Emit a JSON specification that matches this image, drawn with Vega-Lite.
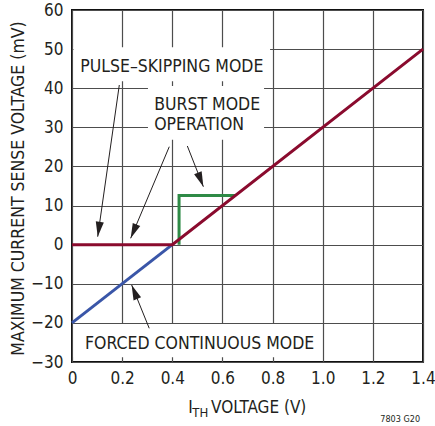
{
  "$schema": "https://vega.github.io/schema/vega-lite/v6.json",
  "autosize": "none",
  "width": 351,
  "height": 352,
  "padding": {"left": 72, "top": 10, "right": 12, "bottom": 64},
  "background": "white",
  "config": {
    "view": {"stroke": "#111", "strokeWidth": 2},
    "font": "'DejaVu Sans Condensed', 'Liberation Sans', sans-serif",
    "axis": {
      "labelFont": "'DejaVu Sans Condensed', 'Liberation Sans', sans-serif",
      "titleFont": "'DejaVu Sans Condensed', 'Liberation Sans', sans-serif",
      "labelColor": "#231f20",
      "titleColor": "#231f20",
      "gridColor": "#4d4d4d",
      "gridWidth": 1.2,
      "gridOpacity": 1,
      "domain": false,
      "ticks": false,
      "tickSize": 0,
      "labelOverlap": false,
      "labelBound": false
    }
  },
  "datasets": {
    "curves": [
      {"series": "forced", "i": 0, "v": 0, "mv": -20},
      {"series": "forced", "i": 1, "v": 0.4, "mv": 0},
      {"series": "burst", "i": 0, "v": 0.427, "mv": 0},
      {"series": "burst", "i": 1, "v": 0.427, "mv": 12.55},
      {"series": "burst", "i": 2, "v": 0.651, "mv": 12.55},
      {"series": "pulse", "i": 0, "v": 0, "mv": 0},
      {"series": "pulse", "i": 1, "v": 0.4, "mv": 0},
      {"series": "pulse", "i": 2, "v": 1.4, "mv": 50}
    ],
    "boxes": [
      {"x1": 0.006, "x2": 0.79, "y1": 50.5, "y2": 41.8},
      {"x1": 0.303, "x2": 0.766, "y1": 40.6, "y2": 26.8},
      {"x1": 0.006, "x2": 0.98, "y1": -20.3, "y2": -28.8}
    ],
    "arrows": [
      {"id": "a1", "x": 0.1887, "y": 40.82, "x2": 0.1025, "y2": 2.04},
      {"id": "a2", "x": 0.388, "y": 25.05, "x2": 0.234, "y2": 1.63},
      {"id": "a3", "x": 0.46, "y": 25.23, "x2": 0.524, "y2": 14.82},
      {"id": "a4", "x": 0.308, "y": -21.38, "x2": 0.238, "y2": -10.31}
    ],
    "labels": [
      {"text": "PULSE–SKIPPING MODE", "x": 0.398, "y": 45.5, "pos": "center"},
      {"text": "BURST MODE", "x": 0.328, "y": 35.7, "pos": "left"},
      {"text": "OPERATION", "x": 0.328, "y": 30.6, "pos": "left"},
      {"text": "FORCED CONTINUOUS MODE", "x": 0.509, "y": -25.4, "pos": "center"}
    ],
    "xtitle": [
      {"text": "I", "x": 0.4633, "y": -43.12, "k": "main"},
      {"text": "TH", "x": 0.4797, "y": -44.14, "k": "sub"},
      {"text": "VOLTAGE (V)", "x": 0.5545, "y": -43.12, "k": "main"}
    ],
    "code": [
      {"text": "7803 G20", "x": 1.309, "y": -45.8}
    ]
  },
  "layer": [
    {
      "data": {"name": "boxes"},
      "mark": {"type": "rect", "fill": "white", "stroke": null},
      "encoding": {
        "x": {"field": "x1", "type": "quantitative",
          "scale": {"domain": [0, 1.4], "nice": false, "zero": false},
          "axis": {"values": [0, 0.2, 0.4, 0.6, 0.8, 1.0, 1.2, 1.4], "tickCount": 20, "labelExpr": "datum.value == 0 ? '0' : format(datum.value, '.1f')", "labelFontSize": 17, "labelPadding": 8, "labelFlush": false, "labelOverlap": false, "title": null, "grid": true}},
        "x2": {"field": "x2"},
        "y": {"field": "y1", "type": "quantitative",
          "scale": {"domain": [-30, 60], "nice": false, "zero": false},
          "axis": {"values": [-30, -20, -10, 0, 10, 20, 30, 40, 50, 60], "tickCount": 20, "format": "d", "labelFontSize": 17, "labelPadding": 9, "labelFlush": false, "labelOverlap": false, "grid": true,
            "title": "MAXIMUM CURRENT SENSE VOLTAGE (mV)", "titleFontSize": 17.5, "titleFontWeight": "normal", "titleAngle": -90, "titleX": -54, "titleY": 178, "titleAlign": "center", "titleBaseline": "middle"}},
        "y2": {"field": "y2"}
      }
    },
    {
      "data": {"name": "curves"},
      "mark": {"type": "line", "strokeWidth": 3, "strokeCap": "butt", "strokeJoin": "miter"},
      "encoding": {
        "x": {"field": "v", "type": "quantitative"},
        "y": {"field": "mv", "type": "quantitative"},
        "detail": {"field": "series"},
        "order": {"field": "i", "type": "quantitative"},
        "color": {"field": "series", "type": "nominal", "sort": ["forced", "burst", "pulse"],
          "scale": {"domain": ["forced", "burst", "pulse"], "range": ["#3a56a8", "#2e8a46", "#8a0b2e"]}, "legend": null}
      }
    },
    {
      "data": {"name": "arrows"},
      "mark": {"type": "rule", "stroke": "#231f20", "strokeWidth": 1},
      "encoding": {
        "x": {"field": "x", "type": "quantitative"},
        "y": {"field": "y", "type": "quantitative"},
        "x2": {"field": "x2"},
        "y2": {"field": "y2"}
      }
    },
    {
      "data": {"name": "arrows"},
      "transform": [{"filter": "datum.id == 'a1'"}],
      "mark": {"type": "point", "shape": "M0,0L-0.27,1L0.27,1Z", "size": 900, "filled": true, "color": "#231f20", "opacity": 1, "angle": 188.1},
      "encoding": {"x": {"field": "x2", "type": "quantitative"}, "y": {"field": "y2", "type": "quantitative"}}
    },
    {
      "data": {"name": "arrows"},
      "transform": [{"filter": "datum.id == 'a2'"}],
      "mark": {"type": "point", "shape": "M0,0L-0.27,1L0.27,1Z", "size": 900, "filled": true, "color": "#231f20", "opacity": 1, "angle": 202.9},
      "encoding": {"x": {"field": "x2", "type": "quantitative"}, "y": {"field": "y2", "type": "quantitative"}}
    },
    {
      "data": {"name": "arrows"},
      "transform": [{"filter": "datum.id == 'a3'"}],
      "mark": {"type": "point", "shape": "M0,0L-0.27,1L0.27,1Z", "size": 900, "filled": true, "color": "#231f20", "opacity": 1, "angle": 158.5},
      "encoding": {"x": {"field": "x2", "type": "quantitative"}, "y": {"field": "y2", "type": "quantitative"}}
    },
    {
      "data": {"name": "arrows"},
      "transform": [{"filter": "datum.id == 'a4'"}],
      "mark": {"type": "point", "shape": "M0,0L-0.27,1L0.27,1Z", "size": 900, "filled": true, "color": "#231f20", "opacity": 1, "angle": 337.9},
      "encoding": {"x": {"field": "x2", "type": "quantitative"}, "y": {"field": "y2", "type": "quantitative"}}
    },
    {
      "data": {"name": "labels"},
      "transform": [{"filter": "datum.pos == 'center'"}],
      "mark": {"type": "text", "fontSize": 17.5, "align": "center", "baseline": "middle", "color": "#231f20"},
      "encoding": {"x": {"field": "x", "type": "quantitative"}, "y": {"field": "y", "type": "quantitative"}, "text": {"field": "text"}}
    },
    {
      "data": {"name": "labels"},
      "transform": [{"filter": "datum.pos == 'left'"}],
      "mark": {"type": "text", "fontSize": 17.5, "align": "left", "baseline": "middle", "color": "#231f20"},
      "encoding": {"x": {"field": "x", "type": "quantitative"}, "y": {"field": "y", "type": "quantitative"}, "text": {"field": "text"}}
    },
    {
      "data": {"name": "xtitle"},
      "transform": [{"filter": "datum.k == 'main'"}],
      "mark": {"type": "text", "fontSize": 17, "align": "left", "baseline": "alphabetic", "color": "#231f20"},
      "encoding": {"x": {"field": "x", "type": "quantitative"}, "y": {"field": "y", "type": "quantitative"}, "text": {"field": "text"}}
    },
    {
      "data": {"name": "xtitle"},
      "transform": [{"filter": "datum.k == 'sub'"}],
      "mark": {"type": "text", "fontSize": 13, "align": "left", "baseline": "alphabetic", "color": "#231f20"},
      "encoding": {"x": {"field": "x", "type": "quantitative"}, "y": {"field": "y", "type": "quantitative"}, "text": {"field": "text"}}
    },
    {
      "data": {"name": "code"},
      "mark": {"type": "text", "fontSize": 9, "align": "center", "baseline": "bottom", "color": "#231f20"},
      "encoding": {"x": {"field": "x", "type": "quantitative"}, "y": {"field": "y", "type": "quantitative"}, "text": {"field": "text"}}
    }
  ]
}
